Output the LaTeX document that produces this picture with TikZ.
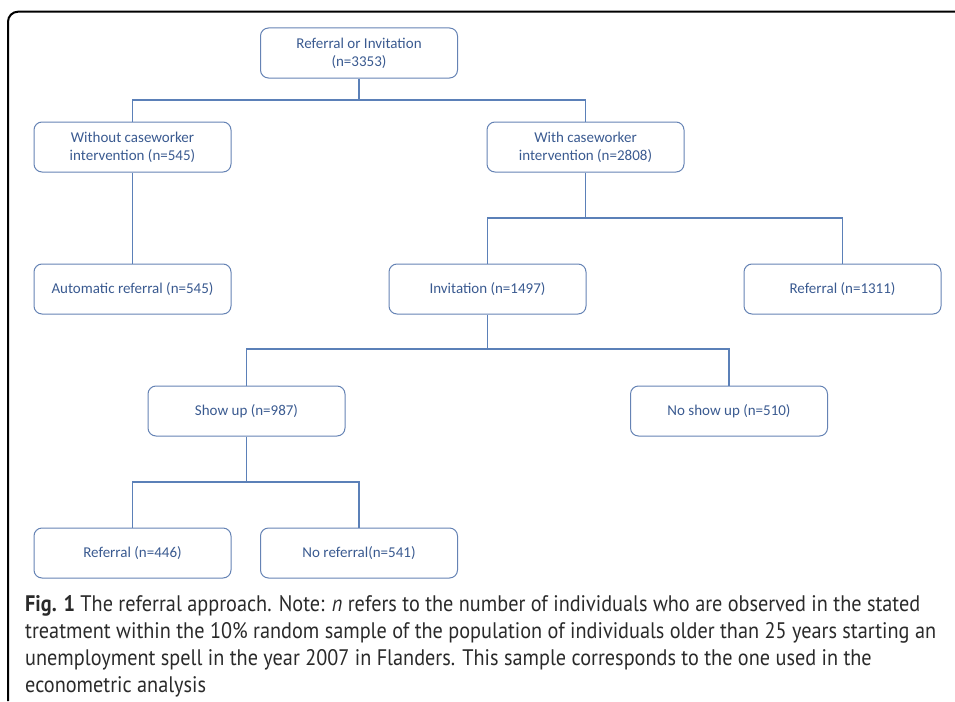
\documentclass[tikz,border=0pt]{standalone}
\usepackage{fontspec}
\setmainfont{Carlito}
\newfontfamily\capfont[FakeStretch=0.90]{PT Sans}
\definecolor{boxline}{HTML}{6583B4}
\definecolor{conn}{HTML}{5B80B8}
\definecolor{boxtext}{HTML}{3A5A90}
\definecolor{captext}{HTML}{2A2A2A}
\begin{document}
\begin{tikzpicture}[x=1pt,y=-1pt,
  fbox/.style={draw=boxline,line width=1pt,rounded corners=8pt,minimum width=197pt,minimum height=50pt,
    align=center,inner sep=0pt,text=boxtext,font=\fontsize{15}{18}\selectfont},
  conn/.style={draw=conn,line width=1.1pt},
  capline/.style={anchor=base west,inner sep=0pt,text=captext,font=\capfont\fontsize{22.5}{27}\selectfont}]
\useasboundingbox (0,0) rectangle (955,701);
\draw[line width=2pt,rounded corners=10pt] (8,701) -- (8,11.7) -- (960,11.7);
\node[fbox] (root) at (359,53) {Referral or Invitation\\(n=3353)};
\node[fbox] (without) at (132.5,147) {Without caseworker\\intervention (n=545)};
\node[fbox] (with) at (585.5,147) {With caseworker\\intervention (n=2808)};
\node[fbox] (auto) at (132.5,289) {Automatic referral (n=545)};
\node[fbox] (inv) at (487.5,289) {Invitation (n=1497)};
\node[fbox] (ref1) at (842.5,289) {Referral (n=1311)};
\node[fbox] (show) at (246.5,411) {Show up (n=987)};
\node[fbox] (noshow) at (729,411) {No show up (n=510)};
\node[fbox] (ref2) at (132.5,553) {Referral (n=446)};
\node[fbox] (noref) at (359,553) {No referral(n=541)};
\coordinate (j1) at (359,100);
\coordinate (j2) at (585.5,218);
\coordinate (j3) at (487.5,349);
\coordinate (j4) at (246.5,482);
\draw[conn] (root.south) -- (j1);
\draw[conn] (j1) -| (without.north);
\draw[conn] (j1) -| (with.north);
\draw[conn] (without.south) -- (auto.north);
\draw[conn] (with.south) -- (j2);
\draw[conn] (j2) -| (inv.north);
\draw[conn] (j2) -| (ref1.north);
\draw[conn] (inv.south) -- (j3);
\draw[conn] (j3) -| (show.north);
\draw[conn] (j3) -| (noshow.north);
\draw[conn] (show.south) -- (j4);
\draw[conn] (j4) -| (ref2.north);
\draw[conn] (j4) -| (noref.north);
\node[capline] (c1) at (25,611) {\textbf{Fig. 1} The referral approach. Note: \textit{n} refers to the number of individuals who are observed in the stated};
\node[capline] (c2) at (25,638) {treatment within the 10\% random sample of the population of individuals older than 25 years starting an};
\node[capline] (c3) at (25,665) {unemployment spell in the year 2007 in Flanders. This sample corresponds to the one used in the};
\node[capline] (c4) at (25,692) {econometric analysis};
\end{tikzpicture}
\end{document}
